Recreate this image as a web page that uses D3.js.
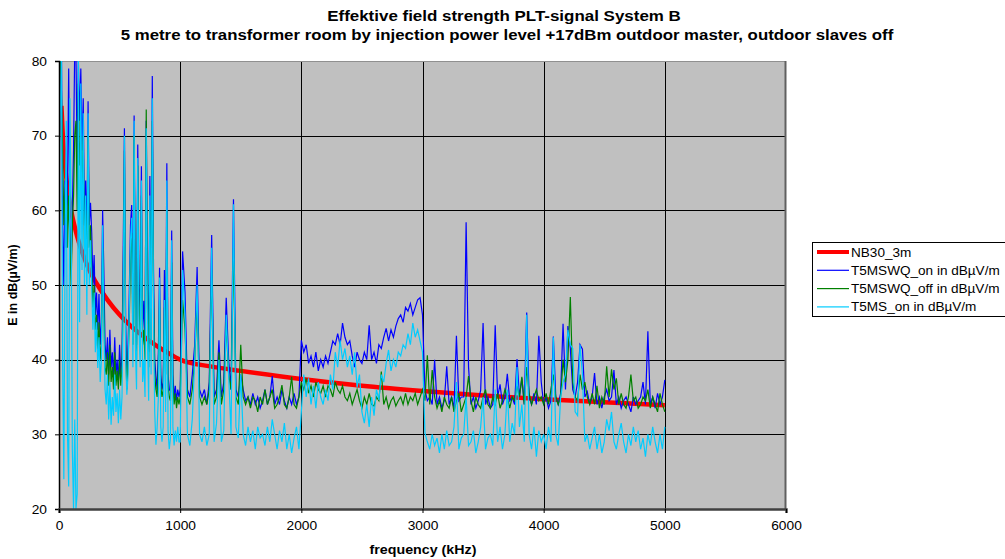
<!DOCTYPE html>
<html>
<head>
<meta charset="utf-8">
<script src="https://cdn.jsdelivr.net/npm/d3@7"></script>
<style>
body { margin: 0; background: #fff; }
text { font-family: "Liberation Sans", Arial, sans-serif; }
</style>
</head>
<body>
<svg id="chart" width="1005" height="559"></svg>
<script>
// frequency grid of the measured series (kHz): 10 kHz below 1 MHz, 20 kHz above
var freq = d3.range(0, 1000, 10).concat(d3.range(1000, 5001, 20))

// NB30 limit curve, 3 m
var nbFreq = [20, 30, 40, 50, 60, 80, 100, 125, 150, 200, 250, 300, 400, 500, 600, 700, 800, 900,
              1000, 1250, 1500, 2000, 2500, 3000, 3500, 4000, 4500, 5000]
var nbValues = [74.0, 70.5, 68.0, 66.0, 64.4, 61.9, 60.0, 58.1, 56.5, 54.0, 52.0, 50.5, 48.0, 46.0, 44.4, 43.1, 41.9, 40.9,
                40.0, 39.1, 38.5, 37.4, 36.5, 35.8, 35.2, 34.7, 34.3, 33.9]

// T5MSWQ_on
var onValues = [
 // 0 - 990 kHz, 10 kHz steps
 72, 76, 82, 58, 50, 64, 55, 62, 79, 58,
 52, 60, 68, 82, 81, 66, 80, 72, 79, 68,
 75, 58, 64, 55, 74.6, 58, 61, 57, 50, 54,
 46, 49, 44, 48.8, 42, 45, 60, 52, 42, 40,
 43, 38, 44, 39, 41, 37.5, 43, 38, 40, 37,
 42, 38, 40.5, 55, 71, 45, 37, 42, 49, 58,
 60.7, 44, 72.7, 48, 42, 68.8, 50, 46, 65.9, 44,
 47.9, 42, 72, 50, 41, 64.6, 44, 78, 52, 40,
 37.8, 36, 41, 52.3, 38, 36, 37, 52, 40, 66.3,
 38, 36, 35.8, 57.3, 38, 35, 36.5, 34.5, 36, 35,
 // 1000 - 5000 kHz, 20 kHz steps
 36, 54.5, 49, 36, 35, 38, 42, 52.4, 36, 35,
 36, 34, 37, 56.7, 35, 36, 42.6, 35, 37, 48.3,
 40, 36, 61.5, 36, 35, 38, 36, 34.5, 35, 34,
 35.5, 34, 35, 33.5, 34.5, 36, 34, 35, 37.8, 34,
 35, 34, 36, 34.5, 33.5, 35, 34, 35.5, 34, 35,
 42.6, 41, 42, 39.5, 40.5, 39, 41, 38.5, 40, 39,
 40.5, 39.5, 41, 42.5, 42, 43.5, 42, 44.9, 43, 42,
 42.5, 40.5, 39, 41, 40, 39.5, 41, 40, 44.6, 40,
 41, 39.5, 42, 41.5, 43, 44.2, 42.5, 44, 43, 44.5,
 45.5, 46, 45, 47, 46.5, 47.5, 46, 47, 48, 48.3,
 46, 36, 34.5, 35, 34, 40, 34, 35, 33.5, 34.5,
 39.1, 34, 35, 33.5, 43.2, 34.5, 35, 35, 58.4, 39,
 34, 35, 33.5, 34.5, 35.9, 44.9, 34, 35, 33.5, 34,
 44.6, 35, 36.7, 34, 35, 38.1, 34.5, 35, 34, 40.1,
 35, 37.5, 34, 46.3, 35, 34, 35.5, 34, 43.2, 37,
 34, 35, 33.5, 34.5, 43.1, 35, 34, 35.5, 44.8, 36,
 44.5, 41.5, 36, 35, 37, 42, 41.4, 35, 35.7, 34,
 35, 38.2, 34, 35, 33.5, 35, 36, 34.5, 35, 38.6,
 34, 35, 33.5, 34.5, 35, 34, 33, 35, 34, 34.5,
 35, 37, 34, 43.8, 34, 35, 33.5, 35.5, 34, 35,
 37.3]

// T5MSWQ_off
var offValues = [
 82, 80, 76, 68, 58, 62, 66, 55, 62, 56,
 50, 58, 62, 70, 72, 60, 77, 66, 70, 62,
 70, 55, 60, 52, 70, 55, 58, 52, 47, 50,
 44, 46, 41, 45, 40, 42, 55, 47, 39, 38,
 41, 36.5, 42, 37, 39, 36, 41, 36.5, 38.5, 36,
 40, 36.5, 39, 50, 68, 42, 36, 40, 45, 54,
 57, 42, 70, 45, 40, 66, 47, 43, 62, 42,
 44, 40, 73.5, 47, 39, 60, 42, 72, 49, 38,
 36, 35, 39, 48, 36.5, 35, 36, 47, 38, 60,
 36.5, 35, 34.5, 53, 36.5, 34, 35.5, 33.5, 35, 34,
 35, 48, 44, 35, 34, 36, 40, 48, 35, 34,
 35, 34, 36, 52, 34, 35, 41, 34, 36, 45,
 38, 36, 55, 35, 34, 42, 35, 34, 35, 33.5,
 35, 34.5, 33, 35, 34, 36, 34, 35, 36, 33.5,
 34, 35, 36.6, 34, 33.5, 35, 37.7, 34, 33.5, 35,
 37, 36, 37.5, 35.5, 36.5, 35, 37, 36, 35.5, 36.5,
 35, 36.5, 36, 35, 37, 36, 35.5, 36.5, 35, 34.5,
 35.5, 34, 35, 36, 34.5, 33.5, 35, 34, 35.5, 34,
 33.8, 35, 34.5, 38.4, 34, 35, 33.5, 34.5, 35, 33.8,
 34.5, 35, 34, 35.5, 34, 35, 34.5, 35.5, 34, 35,
 36, 34.5, 40.6, 34, 38.6, 35, 33.5, 34.5, 33, 35,
 34, 33.5, 35, 33, 34.5, 35.5, 33, 34, 35, 37.8,
 34.5, 33, 35, 34, 33.5, 35, 36, 34, 33.5, 35,
 34, 35.5, 33.5, 34.5, 36, 35, 33.5, 35, 34.5, 36.5,
 35, 37.7, 34, 39, 35.5, 34, 35, 36, 34.5, 35,
 34, 35.5, 34, 36, 38, 35, 34, 35, 40, 37,
 40, 48.4, 37, 35, 34.5, 38, 36, 37, 35, 34,
 35.5, 34, 36.5, 33.5, 35, 34, 39.1, 35, 38.7, 36,
 37.5, 34, 35.5, 34, 33.5, 35, 38, 34.5, 35, 33.5,
 34, 35, 34.5, 36, 33.5, 35, 34, 33, 35.5, 34,
 33]

// T5MS_on
var msValues = [
 62, 72, 82, 40, 24, 55, 72, 30, 23, 75,
 60, 28, 20, 32, 20, 22, 80, 45, 77, 52,
 73, 50, 62, 46, 73, 50, 56, 49.6, 44, 49,
 41, 45, 38.9, 43, 37, 40, 58, 45, 36, 34,
 38, 32, 37, 31.3, 35, 32.5, 38, 33, 35.5, 31.5,
 36, 32, 35, 48, 70, 40, 35.3, 38, 47, 56,
 59, 39, 72, 42, 36, 67, 44, 39, 64, 37,
 40, 35, 71, 43, 34.5, 62, 38, 75, 46, 33,
 28.6, 31, 35, 51, 31, 29, 31, 48, 33, 64,
 30.5, 28, 29.5, 56, 31, 28.5, 30.5, 29, 31, 29,
 29, 52, 46, 30, 28.5, 32, 40, 50, 30, 29,
 31, 28.5, 30, 55, 29, 31.5, 40, 29, 30.5, 46,
 38, 30, 60.8, 31, 29.5, 38, 30, 28.5, 31, 29,
 30.5, 28, 31, 29.5, 30, 28.5, 31, 29, 32, 30,
 28, 30.5, 29, 31.5, 28, 30, 27.5, 29.5, 31, 28,
 33, 38, 35, 37.5, 34, 36.5, 33.5, 37, 35, 34,
 36, 34.5, 38, 36, 41, 39, 42.6, 40, 41.5, 39,
 40.5, 38, 41, 36.3, 38, 33, 31.5, 34, 31, 35,
 32.5, 36, 34.6, 38, 37, 39.5, 41.3, 38.5, 40, 39,
 41, 40.5, 42, 41.5, 43.5, 42, 44.9, 43, 44, 42.5,
 41, 30.2, 29, 28, 30, 28.5, 29.5, 27.5, 30, 28,
 30.5, 28.5, 29, 31, 37, 28, 29.5, 30, 35, 28.5,
 29, 30.5, 27.5, 29, 31, 35, 28, 29.5, 30, 28.5,
 36, 29, 31, 28, 30, 36, 29, 31.5, 30, 39,
 31, 34, 29, 46, 30, 28, 31, 27, 30.5, 29,
 30, 28, 31, 29, 43, 30, 28.5, 35, 37, 38,
 44, 42, 41.5, 33, 32.5, 42, 38, 29, 30, 28,
 29.5, 31, 28, 30, 27.5, 29, 32, 30.5, 33, 29,
 28, 30, 31.5, 29, 27.5, 30, 28.5, 31, 29, 30.5,
 28, 29.5, 27, 30, 28.5, 31, 29, 27.5, 30, 28,
 31]

var xTicks = [0, 1000, 2000, 3000, 4000, 5000, 6000]
var yTicks = [20, 30, 40, 50, 60, 70, 80]

var seriesNames = ["NB30_3m", "T5MSWQ_on in dB\u00b5V/m", "T5MSWQ_off in dB\u00b5V/m", "T5MS_on in dB\u00b5V/m"]
var seriesColors = ["#ff0000", "#0000ff", "#008000", "#00ccff"]

var plotLeft = 59, plotRight = 786, plotTop = 61, plotBottom = 509

var svg = d3.select("#chart")

var xScale = d3.scaleLinear().domain([0, 6000]).range([plotLeft, plotRight])
var yScale = d3.scaleLinear().domain([20, 80]).range([plotBottom, plotTop])

// the original picture is a bit wider than the font: stretch text horizontally
function stretch(sel, factor) {
    sel.each(function() {
        var w = this.getComputedTextLength()
        d3.select(this).attr("textLength", w * factor).attr("lengthAdjust", "spacingAndGlyphs")
    })
}

// title
svg.append("text")
    .attr("x", 504).attr("y", 21)
    .attr("text-anchor", "middle")
    .attr("font-size", 14).attr("font-weight", "bold")
    .text("Effektive field strength PLT-signal System B")
    .call(stretch, 1.21)
svg.append("text")
    .attr("x", 507).attr("y", 40)
    .attr("text-anchor", "middle")
    .attr("font-size", 14).attr("font-weight", "bold")
    .text("5 metre to transformer room by injection power level +17dBm outdoor master, outdoor slaves off")
    .call(stretch, 1.2)

// plot area
svg.append("rect")
    .attr("x", plotLeft).attr("y", plotTop)
    .attr("width", plotRight - plotLeft).attr("height", plotBottom - plotTop)
    .attr("fill", "#c0c0c0")

svg.append("clipPath").attr("id", "plotClip")
    .append("rect")
    .attr("x", plotLeft).attr("y", plotTop)
    .attr("width", plotRight - plotLeft).attr("height", plotBottom - plotTop)

// grid
svg.append("g").selectAll("line")
    .data(yTicks.slice(1, -1))
    .enter().append("line")
    .attr("x1", plotLeft).attr("x2", plotRight)
    .attr("y1", function(d) { return Math.round(yScale(d)) + 0.5 })
    .attr("y2", function(d) { return Math.round(yScale(d)) + 0.5 })
    .attr("stroke", "#000").attr("stroke-width", 1)
svg.append("g").selectAll("line")
    .data(xTicks.slice(1, -1))
    .enter().append("line")
    .attr("y1", plotTop).attr("y2", plotBottom)
    .attr("x1", function(d) { return Math.round(xScale(d)) + 0.5 })
    .attr("x2", function(d) { return Math.round(xScale(d)) + 0.5 })
    .attr("stroke", "#000").attr("stroke-width", 1)

// frame
svg.append("line").attr("x1", plotLeft).attr("x2", plotRight).attr("y1", plotTop + 0.5).attr("y2", plotTop + 0.5)
    .attr("stroke", "#909090")
svg.append("line").attr("x1", plotRight - 0.5).attr("x2", plotRight - 0.5).attr("y1", plotTop).attr("y2", plotBottom)
    .attr("stroke", "#606060").attr("stroke-width", 2)

// series
var plot = svg.append("g").attr("clip-path", "url(#plotClip)")

var nbLine = d3.line()
    .x(function(d, i) { return xScale(nbFreq[i]) })
    .y(function(d) { return yScale(d) })
    .curve(d3.curveMonotoneX)

plot.append("path")
    .datum(nbValues)
    .attr("d", nbLine)
    .attr("fill", "none")
    .attr("stroke", seriesColors[0])
    .attr("stroke-width", 4.5)

var measLine = d3.line()
    .x(function(d, i) { return xScale(freq[i]) })
    .y(function(d) { return yScale(d) })

var measured = [onValues, offValues, msValues]
plot.selectAll("path.meas")
    .data(measured)
    .enter().append("path")
    .attr("class", "meas")
    .attr("d", measLine)
    .attr("fill", "none")
    .attr("stroke", function(d, i) { return seriesColors[i + 1] })
    .attr("stroke-width", 1.2)

// axes
var yAxis = svg.append("g")
    .attr("transform", "translate(" + plotLeft + ",0)")
    .call(d3.axisLeft(yScale).tickValues(yTicks).tickSize(4).tickPadding(8))
yAxis.select(".domain").attr("stroke", "#000").attr("stroke-width", 1.5)
yAxis.selectAll("text").attr("font-size", 12.5).attr("fill", "#000")
    .style("font-family", '"Liberation Sans", Arial, sans-serif')
    .call(stretch, 1.1)

var xAxis = svg.append("g")
    .attr("transform", "translate(0," + plotBottom + ")")
    .call(d3.axisBottom(xScale).tickValues(xTicks).tickFormat(d3.format("d")).tickSize(4).tickPadding(8))
xAxis.select(".domain").attr("stroke", "#404040").attr("stroke-width", 2.5)
xAxis.selectAll("text").attr("font-size", 12.5).attr("fill", "#000")
    .style("font-family", '"Liberation Sans", Arial, sans-serif')
    .call(stretch, 1.1)

// axis labels
svg.append("text")
    .attr("x", 423).attr("y", 554)
    .attr("text-anchor", "middle")
    .attr("font-size", 12.5).attr("font-weight", "bold")
    .text("frequency (kHz)")
    .call(stretch, 1.14)
svg.append("text")
    .attr("transform", "translate(17,285) rotate(-90)")
    .attr("text-anchor", "middle")
    .attr("font-size", 12.5).attr("font-weight", "bold")
    .text("E in dB(\u00b5V/m)")

// legend
var legend = svg.append("g").attr("transform", "translate(812,242)")
legend.append("rect")
    .attr("x", 0.5).attr("y", 0.5)
    .attr("width", 230).attr("height", 74)
    .attr("fill", "#fff").attr("stroke", "#000")
var item = legend.selectAll("g.item")
    .data(seriesNames)
    .enter().append("g")
    .attr("class", "item")
    .attr("transform", function(d, i) { return "translate(0," + (10 + i * 18.3) + ")" })
item.append("line")
    .attr("x1", 5).attr("x2", 37)
    .attr("stroke", function(d, i) { return seriesColors[i] })
    .attr("stroke-width", function(d, i) { return i === 0 ? 4 : 1.2 })
item.append("text")
    .attr("x", 39).attr("y", 4.5)
    .attr("font-size", 12)
    .text(function(d) { return d })
    .call(stretch, 1.13)
</script>
</body>
</html>
